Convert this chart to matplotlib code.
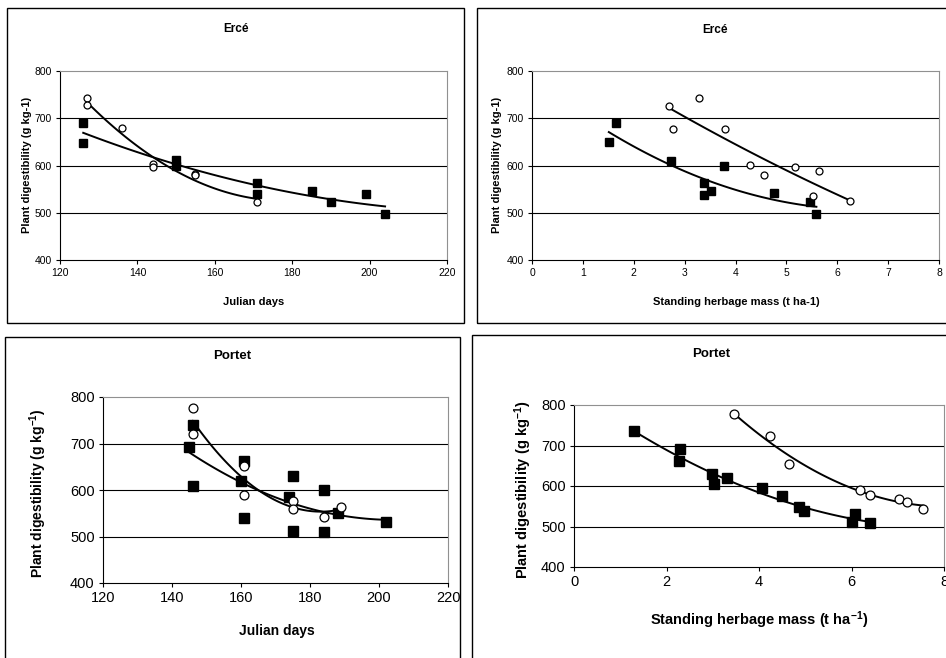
import numpy as np
import matplotlib
matplotlib.use('Agg')
import matplotlib.pyplot as plt
from matplotlib.patches import Rectangle

plt.rcParams['font.family'] = ['Liberation Sans', 'DejaVu Sans']
plt.rcParams['mathtext.default'] = 'regular'

# Erce, digestibility vs Julian days
erce_day_circ_x = [127, 127, 136, 144, 144, 155, 155, 171]
erce_day_circ_y = [742, 727, 680, 603, 597, 583, 580, 523]
erce_day_sq_x = [126, 126, 150, 150, 171, 171, 185, 190, 199, 204]
erce_day_sq_y = [690, 648, 612, 598, 562, 539, 547, 522, 539, 497]

# Erce, digestibility vs standing herbage mass
erce_mass_circ_x = [2.69, 3.28, 2.77, 3.80, 4.28, 4.57, 5.16, 5.65, 5.53, 6.26]
erce_mass_circ_y = [725, 742, 678, 678, 602, 580, 596, 588, 536, 524]
erce_mass_sq_x = [1.51, 1.66, 2.74, 3.39, 3.39, 3.51, 3.77, 4.76, 5.47, 5.59]
erce_mass_sq_y = [649, 689, 610, 563, 537, 545, 598, 541, 522, 497]

# Portet, digestibility vs Julian days
portet_day_circ_x = [146, 146, 161, 161, 175, 175, 184, 189]
portet_day_circ_y = [777, 721, 652, 589, 577, 559, 541, 564]
portet_day_sq_x = [145, 146, 146, 161, 160, 161, 174, 175, 175, 184, 184, 188, 202]
portet_day_sq_y = [692, 740, 608, 663, 620, 539, 584, 631, 512, 599, 510, 550, 531]

# Portet, digestibility vs standing herbage mass
portet_mass_circ_x = [3.45, 4.24, 4.65, 6.18, 6.40, 7.03, 7.21, 7.55]
portet_mass_circ_y = [779, 723, 655, 590, 579, 567, 561, 543]
portet_mass_sq_x = [1.30, 2.30, 2.27, 2.98, 3.02, 3.30, 4.06, 4.49, 4.86, 4.97, 6.00, 6.08, 6.40]
portet_mass_sq_y = [737, 691, 661, 629, 605, 620, 596, 576, 548, 538, 510, 530, 508]

W, H = 946, 658
fig = plt.figure(figsize=(W / 100, H / 100), dpi=100)


def fx(px):
    return px / W


def fy(py):
    return 1 - py / H


def make_axes(l, t, r, b):
    return fig.add_axes([fx(l), fy(b), fx(r) - fx(l), fy(t) - fy(b)])


def trend(ax, x, y):
    c = np.polyfit(x, y, 2)
    xs = np.linspace(min(x), max(x), 100)
    ax.plot(xs, np.polyval(c, xs), color='black', lw=1.4, zorder=3)


def panel(ax, cx, cy, sx, sy, xlim, xticks, small):
    sq_ms = 5.3 if small else 6.8
    ci_ms = 5.0 if small else 6.4
    ax.plot(sx, sy, 's', color='black', ms=sq_ms, zorder=4)
    ax.plot(cx, cy, 'o', mfc='white', mec='black', mew=0.9, ms=ci_ms, zorder=4)
    trend(ax, sx, sy)
    trend(ax, cx, cy)
    ax.set_xlim(*xlim)
    ax.set_ylim(400, 800)
    ax.set_xticks(xticks)
    ax.set_yticks([400, 500, 600, 700, 800])
    for v in [500, 600, 700]:
        ax.axhline(v, color='black', lw=0.8, zorder=1)
    for s in ['top', 'right']:
        ax.spines[s].set_color('#909090')
        ax.spines[s].set_linewidth(0.8)
    for s in ['left', 'bottom']:
        ax.spines[s].set_color('black')
        ax.spines[s].set_linewidth(0.8)
    fs = 7.5 if small else 10.5
    ax.tick_params(direction='out', length=3, width=0.8, labelsize=fs, pad=3)
    for lab in ax.get_xticklabels() + ax.get_yticklabels():
        lab.set_clip_on(False)


def box(l, t, r, b):
    fig.patches.append(Rectangle((fx(l), fy(b)), fx(r) - fx(l), fy(t) - fy(b),
                                 transform=fig.transFigure, fill=False,
                                 ec='black', lw=1.0))


# top-left
box(7, 8, 464, 323)
ax1 = make_axes(60, 71, 447, 260)
panel(ax1, erce_day_circ_x, erce_day_circ_y, erce_day_sq_x, erce_day_sq_y,
      (120, 220), [120, 140, 160, 180, 200, 220], True)
fig.text(fx(236), fy(29), 'Ercé', ha='center', va='center', fontsize=8.5, weight='bold')
fig.text(fx(254), fy(302), 'Julian days', ha='center', va='center', fontsize=8, weight='bold')
fig.text(fx(27), fy(165), 'Plant digestibility (g kg-1)', ha='center', va='center',
         rotation=90, fontsize=8, weight='bold')

# top-right
box(477, 8, 960, 323)
ax2 = make_axes(532, 71, 939, 260)
panel(ax2, erce_mass_circ_x, erce_mass_circ_y, erce_mass_sq_x, erce_mass_sq_y,
      (0, 8), list(range(0, 9)), True)
fig.text(fx(715), fy(30), 'Ercé', ha='center', va='center', fontsize=8.5, weight='bold')
fig.text(fx(736), fy(302), 'Standing herbage mass (t ha-1)', ha='center', va='center',
         fontsize=8, weight='bold')
fig.text(fx(497), fy(165), 'Plant digestibility (g kg-1)', ha='center', va='center',
         rotation=90, fontsize=8, weight='bold')

# bottom-left
box(5, 337, 460, 700)
ax3 = make_axes(103, 397, 448, 583)
panel(ax3, portet_day_circ_x, portet_day_circ_y, portet_day_sq_x, portet_day_sq_y,
      (120, 220), [120, 140, 160, 180, 200, 220], False)
fig.text(fx(232), fy(356), 'Portet', ha='center', va='center', fontsize=9.5, weight='bold')
fig.text(fx(277), fy(631), 'Julian days', ha='center', va='center', fontsize=10, weight='bold')
fig.text(fx(38), fy(493), 'Plant digestibility (g kg$^{-1}$)', ha='center', va='center',
         rotation=90, fontsize=10, weight='bold')

# bottom-right
box(472, 335, 960, 700)
ax4 = make_axes(574, 405, 944, 567)
panel(ax4, portet_mass_circ_x, portet_mass_circ_y, portet_mass_sq_x, portet_mass_sq_y,
      (0, 8), [0, 2, 4, 6, 8], False)
fig.text(fx(711), fy(354), 'Portet', ha='center', va='center', fontsize=9.5, weight='bold')
fig.text(fx(759), fy(620), 'Standing herbage mass (t ha$^{-1}$)', ha='center', va='center',
         fontsize=10.5, weight='bold')
fig.text(fx(523), fy(490), 'Plant digestibility (g kg$^{-1}$)', ha='center', va='center',
         rotation=90, fontsize=10.5, weight='bold')

fig.savefig('out.png', dpi=100)
